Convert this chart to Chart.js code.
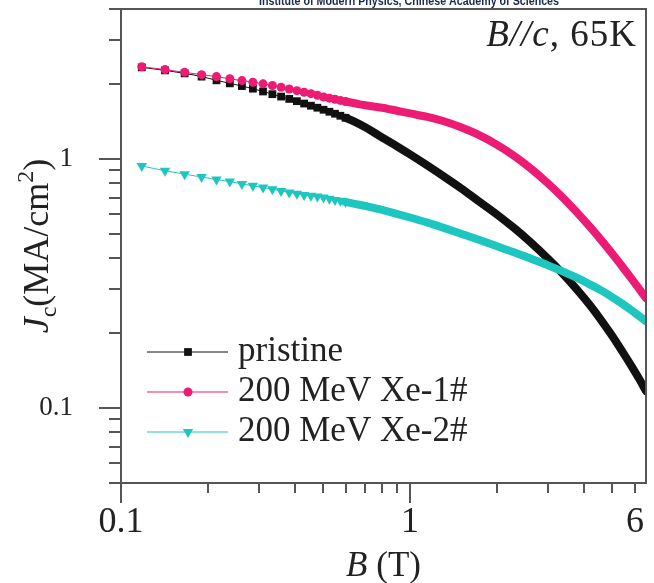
<!DOCTYPE html>
<html lang="en">
<head>
<meta charset="UTF-8" />
<title>Jc(B), B//c, 65K</title>
<script src="https://cdn.jsdelivr.net/npm/chart.js"></script>
<style>
  html, body { margin: 0; padding: 0; background: #ffffff; }
  #wrap { width: 654px; height: 583px; }
</style>
</head>
<body>
<div id="wrap"><canvas id="jcChart" width="654" height="583"></canvas></div>
<script>
// field (T), same field points for the three samples
const fieldB = [0.118, 0.142, 0.166, 0.19, 0.214, 0.238, 0.262, 0.286, 0.31, 0.334,
  0.358, 0.382, 0.406, 0.43, 0.454, 0.478, 0.502, 0.526, 0.55, 0.574, 0.598,
  0.65, 0.7, 0.8, 0.9, 1.0, 1.15, 1.3, 1.5, 1.7, 2.0, 2.3, 2.6, 3.0, 3.4, 3.8,
  4.2, 4.6, 5.0, 5.4, 5.8, 6.2, 6.55];

// Jc (MA/cm2)
const jcPristine = [2.332, 2.268, 2.206, 2.141, 2.069, 2.012, 1.962, 1.915, 1.866, 1.820,
  1.780, 1.742, 1.706, 1.669, 1.636, 1.606, 1.576, 1.547, 1.519, 1.491, 1.463,
  1.403, 1.340, 1.220, 1.125, 1.043, 0.940, 0.855, 0.763, 0.686, 0.598, 0.526, 0.465,
  0.398, 0.343, 0.297, 0.258, 0.224, 0.195, 0.170, 0.149, 0.131, 0.117];
const jcXe1 = [2.343, 2.285, 2.227, 2.180, 2.141, 2.098, 2.063, 2.033, 2.003, 1.973,
  1.941, 1.910, 1.880, 1.852, 1.829, 1.803, 1.774, 1.754, 1.736, 1.718, 1.701,
  1.669, 1.642, 1.606, 1.562, 1.523, 1.475, 1.420, 1.341, 1.260, 1.139, 1.026, 0.921,
  0.798, 0.694, 0.606, 0.532, 0.470, 0.417, 0.372, 0.334, 0.301, 0.276];
const jcXe2 = [0.937, 0.897, 0.869, 0.846, 0.827, 0.811, 0.794, 0.780, 0.768, 0.756,
  0.744, 0.734, 0.725, 0.717, 0.711, 0.706, 0.700, 0.692, 0.685, 0.679, 0.672,
  0.659, 0.648, 0.624, 0.602, 0.582, 0.555, 0.530, 0.501, 0.477, 0.446, 0.421, 0.399,
  0.374, 0.352, 0.332, 0.313, 0.296, 0.279, 0.263, 0.248, 0.234, 0.223];

const seriesNames = ['pristine', '200 MeV Xe-1#', '200 MeV Xe-2#'];

// ticks
const xTicks = [0.1, 0.2, 0.3, 0.4, 0.5, 0.6, 0.7, 0.8, 0.9, 1, 2, 3, 4, 5, 6];
const xLabelled = [0.1, 1, 6];
const xMajor = [0.1, 1];
const yTicks = [0.05, 0.06, 0.07, 0.08, 0.09, 0.1, 0.2, 0.3, 0.4, 0.5, 0.6, 0.7, 0.8, 0.9, 1, 2, 3, 4];
const yLabelled = [0.1, 1];
const yMajor = [0.1, 1];

const SERIF = '"Liberation Serif", "Times New Roman", serif';
const AXIS_COLOR = '#555';
const TEXT_COLOR = '#222';
const BAND_FROM = 0.598;   // past this the measured points sit on top of each other

function toXY(ys) {
  return fieldB.map((b, i) => ({ x: b, y: ys[i] }));
}

function makeSeries(label, ys, color, style, radius, rotation, order) {
  return {
    label: label,
    data: toXY(ys),
    borderColor: color,
    backgroundColor: color,
    pointBackgroundColor: color,
    pointBorderWidth: 0,
    pointStyle: style,
    pointRotation: rotation,
    pointRadius: ctx => (fieldB[ctx.dataIndex] <= BAND_FROM ? radius : 0),
    legendRadius: radius,
    borderWidth: 1,
    borderCapStyle: 'round',
    borderJoinStyle: 'round',
    cubicInterpolationMode: 'monotone',
    segment: {
      borderWidth: ctx => (fieldB[ctx.p0DataIndex] >= BAND_FROM ? 8 : 1)
    },
    clip: 0,
    order: order
  };
}

// rich text drawn piece by piece (italics, sub/superscripts)
function drawParts(ctx, parts, x, y, align) {
  let total = 0;
  parts.forEach(p => { ctx.font = p.font; p.w = ctx.measureText(p.t).width; total += p.w; });
  let cx = align === 'right' ? x - total : (align === 'center' ? x - total / 2 : x);
  ctx.textAlign = 'left';
  ctx.textBaseline = 'alphabetic';
  parts.forEach(p => {
    ctx.font = p.font;
    ctx.fillText(p.t, cx, y + (p.dy || 0));
    cx += p.w;
  });
}

const decorPlugin = {
  id: 'decor',
  afterDraw(chart) {
    const ctx = chart.ctx;
    const { left, right, top, bottom } = chart.chartArea;
    const xs = chart.scales.x, ys = chart.scales.y;
    ctx.save();

    // frame
    ctx.strokeStyle = AXIS_COLOR;
    ctx.lineWidth = 2;
    ctx.strokeRect(left, top, right - left, bottom - top);

    // tick marks, outside
    ctx.beginPath();
    xs.ticks.forEach(t => {
      const px = Math.round(xs.getPixelForValue(t.value));
      const len = xMajor.includes(t.value) ? 20 : 10;
      ctx.moveTo(px, bottom);
      ctx.lineTo(px, bottom + len);
    });
    ys.ticks.forEach(t => {
      const py = Math.round(ys.getPixelForValue(t.value));
      const len = yMajor.includes(t.value) ? 22 : 12;
      ctx.moveTo(left, py);
      ctx.lineTo(left - len, py);
    });
    ctx.stroke();

    ctx.fillStyle = TEXT_COLOR;
    // annotation
    ctx.letterSpacing = '1px';
    drawParts(ctx, [
      { t: 'B//c', font: 'italic 37px ' + SERIF },
      { t: ', 65K', font: '37px ' + SERIF }
    ], 637, 46, 'right');
    ctx.letterSpacing = '0px';

    // x title
    drawParts(ctx, [
      { t: 'B', font: 'italic 35px ' + SERIF },
      { t: ' (T)', font: '35px ' + SERIF }
    ], (left + right) / 2, 576, 'center');

    // y title, rotated
    ctx.save();
    ctx.translate(48, (top + bottom) / 2);
    ctx.rotate(-Math.PI / 2);
    drawParts(ctx, [
      { t: 'J', font: 'italic 36px ' + SERIF },
      { t: 'c', font: '24px ' + SERIF, dy: 8 },
      { t: '(MA/cm', font: '36px ' + SERIF },
      { t: '2', font: '24px ' + SERIF, dy: -15 },
      { t: ')', font: '36px ' + SERIF }
    ], 0, 0, 'center');
    ctx.restore();

    // legend inside the plot
    chart.data.datasets.forEach((ds, i) => {
      const y = 352 + i * 40;
      ctx.strokeStyle = ds.borderColor;
      ctx.lineWidth = 1;
      ctx.beginPath();
      ctx.moveTo(147, y);
      ctx.lineTo(228, y);
      ctx.stroke();
      ctx.fillStyle = ds.pointBackgroundColor;
      Chart.helpers.drawPoint(ctx, {
        pointStyle: ds.pointStyle, radius: ds.legendRadius,
        rotation: ds.pointRotation || 0, borderWidth: 0
      }, 188, y);
      ctx.fillStyle = TEXT_COLOR;
      ctx.font = '35px ' + SERIF;
      ctx.textAlign = 'left';
      ctx.textBaseline = 'alphabetic';
      ctx.fillText(ds.label, 238, y + 9);
    });

    // source watermark at the top edge
    ctx.fillStyle = '#1b2b4b';
    ctx.font = 'bold 12px "Liberation Sans", Arial, sans-serif';
    ctx.textAlign = 'center';
    ctx.fillText('Institute of Modern Physics, Chinese Academy of Sciences', 409, 5, 300);

    ctx.restore();
  }
};

new Chart(document.getElementById('jcChart'), {
  type: 'line',
  data: {
    datasets: [
      makeSeries(seriesNames[0], jcPristine, '#111111', 'rect', 5.5, 0, 2),
      makeSeries(seriesNames[1], jcXe1, '#ec1b73', 'circle', 4.5, 0, 0),
      makeSeries(seriesNames[2], jcXe2, '#1ec6c0', 'triangle', 6, 180, 1)
    ]
  },
  options: {
    responsive: false,
    animation: false,
    devicePixelRatio: 1,
    layout: { padding: { top: 9, right: 8, left: 0, bottom: 0 } },
    plugins: {
      legend: { display: false },
      tooltip: { enabled: false }
    },
    scales: {
      x: {
        type: 'logarithmic',
        position: 'bottom',
        min: 0.1,
        max: 6.55,
        grid: { display: false },
        border: { display: false },
        afterBuildTicks: s => { s.ticks = xTicks.map(v => ({ value: v })); },
        afterFit: s => { s.height = 100; s.paddingLeft = 0; s.paddingRight = 0; },
        ticks: {
          autoSkip: false,
          maxRotation: 0,
          padding: 10,
          color: TEXT_COLOR,
          font: { family: SERIF, size: 36 },
          callback: v => (xLabelled.includes(v) ? String(v) : '')
        }
      },
      y: {
        type: 'logarithmic',
        min: 0.05,
        max: 4,
        grid: { display: false },
        border: { display: false },
        afterBuildTicks: s => { s.ticks = yTicks.map(v => ({ value: v })); },
        afterFit: s => { s.width = 121; s.paddingTop = 0; s.paddingBottom = 0; },
        ticks: {
          autoSkip: false,
          padding: 40,
          color: TEXT_COLOR,
          font: { family: SERIF, size: 27 },
          callback: v => (yLabelled.includes(v) ? String(v) : '')
        }
      }
    }
  },
  plugins: [decorPlugin]
});
</script>
</body>
</html>
